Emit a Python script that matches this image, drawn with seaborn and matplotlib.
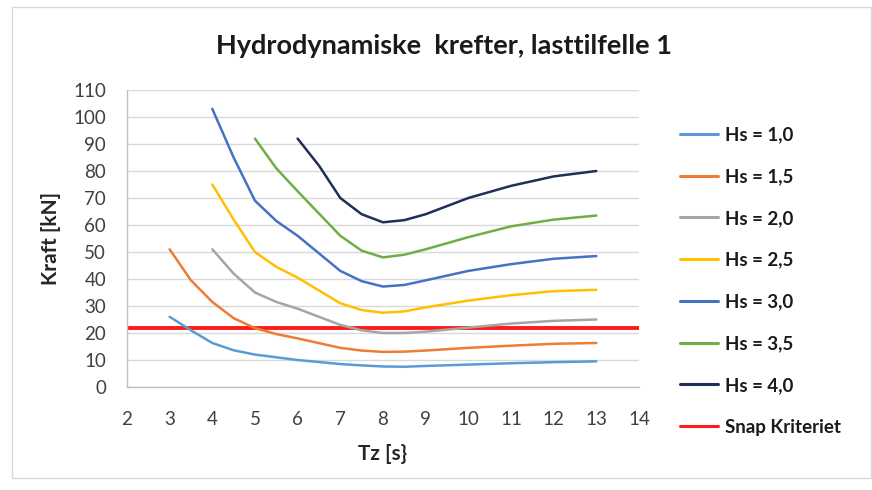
import matplotlib
matplotlib.use("Agg")
import matplotlib.pyplot as plt
import seaborn as sns
import pandas as pd
from matplotlib.patches import Rectangle

# ---- data ----
tz_1_0 = [3, 3.5, 4, 4.5, 5, 6, 7, 7.5, 8, 8.5, 9, 10, 11, 12, 13]
f_1_0 = [26, 21, 16.3, 13.6, 12, 10, 8.5, 8.0, 7.6, 7.5, 7.8, 8.3, 8.8, 9.2, 9.5]
tz_1_5 = [3, 3.5, 4, 4.5, 5, 5.5, 6, 7, 7.5, 8, 8.5, 9, 10, 11, 12, 13]
f_1_5 = [51, 39.5, 31.5, 25.5, 21.8, 19.6, 18, 14.5, 13.5, 13, 13.1, 13.5, 14.5, 15.3, 16, 16.3]
tz_2_0 = [4, 4.5, 5, 5.5, 6, 6.5, 7, 7.5, 8, 8.5, 9, 10, 11, 12, 13]
f_2_0 = [51, 42, 35, 31.5, 29, 26, 23, 21, 20, 20, 20.5, 22, 23.5, 24.5, 25]
tz_2_5 = [4, 4.5, 5, 5.5, 6, 7, 7.5, 8, 8.5, 9, 10, 11, 12, 13]
f_2_5 = [75, 62, 50, 44.5, 40.5, 31, 28.5, 27.5, 28, 29.5, 32, 34, 35.5, 36]
tz_3_0 = [4, 4.5, 5, 5.5, 6, 7, 7.5, 8, 8.5, 9, 10, 11, 12, 13]
f_3_0 = [103, 85, 69, 61.5, 56, 43, 39.2, 37.2, 37.8, 39.5, 43, 45.5, 47.5, 48.5]
tz_3_5 = [5, 5.5, 6, 7, 7.5, 8, 8.5, 9, 10, 11, 12, 13]
f_3_5 = [92, 81, 72.5, 56, 50.5, 48, 49, 51, 55.5, 59.5, 62, 63.5]
tz_4_0 = [6, 6.5, 7, 7.5, 8, 8.5, 9, 10, 11, 12, 13]
f_4_0 = [92, 82, 70, 64, 61, 61.8, 64, 70, 74.5, 78, 80]
snap_tz = [2, 14]
snap_value = [22, 22]

series_names = ["Hs = 1,0", "Hs = 1,5", "Hs = 2,0", "Hs = 2,5",
                "Hs = 3,0", "Hs = 3,5", "Hs = 4,0", "Snap Kriteriet"]
series_x = [tz_1_0, tz_1_5, tz_2_0, tz_2_5, tz_3_0, tz_3_5, tz_4_0, snap_tz]
series_y = [f_1_0, f_1_5, f_2_0, f_2_5, f_3_0, f_3_5, f_4_0, snap_value]
colors = ["#5B9BD5", "#ED7D31", "#A5A5A5", "#FFC000",
          "#4472C4", "#70AD47", "#1F2F55", "#FF1A1A"]
x_ticks = list(range(2, 15))
y_ticks = list(range(0, 111, 10))

rows = []
for name, xs, ys in zip(series_names, series_x, series_y):
    for x, y in zip(xs, ys):
        rows.append({"Tz": x, "Kraft": y, "Serie": name})
df = pd.DataFrame(rows)

sns.set_theme(style="white")
plt.rcParams["font.family"] = ["Lato", "DejaVu Sans"]

fig = plt.figure(figsize=(8.72, 4.9), dpi=100)
ax = fig.add_axes([0.1456, 0.2102, 0.5872, 0.6061])

palette = dict(zip(series_names, colors))
sns.lineplot(data=df, x="Tz", y="Kraft", hue="Serie", palette=palette,
             hue_order=series_names, linewidth=1.8, ax=ax, sort=True,
             estimator=None)
for line, name in zip(ax.get_lines(), series_names):
    line.set_solid_joinstyle("round")
    line.set_solid_capstyle("round")
    if name == "Snap Kriteriet":
        line.set_linewidth(2.8)
        line.set_solid_capstyle("butt")
        line.set_zorder(1.5)

ax.set_xlim(2, 14)
ax.set_ylim(0, 110)
ax.set_xticks(x_ticks)
ax.set_yticks(y_ticks)
ax.tick_params(axis="both", labelsize=13.5, colors="#404040", length=0)
ax.tick_params(axis="x", pad=17)
ax.tick_params(axis="y", pad=15)
ax.grid(axis="y", color="#D9D9D9", linewidth=1)
ax.set_axisbelow(True)
for s in ["top", "right"]:
    ax.spines[s].set_visible(False)
for s in ["left", "bottom"]:
    ax.spines[s].set_color("#BFBFBF")
    ax.spines[s].set_linewidth(1)

ax.set_xlabel("Tz [s}", fontsize=15, fontweight="bold", color="#262626", labelpad=12)
ax.set_ylabel("Kraft [kN]", fontsize=15, fontweight="bold", color="#262626", labelpad=9)

fig.text(0.509, 0.907, "Hydrodynamiske  krefter, lasttilfelle 1", ha="center",
         va="center", fontsize=19.5, fontweight="bold", color="#1a1a1a")

handles, labels = ax.get_legend_handles_labels()
for h in handles:
    h.set_linewidth(2.2)
leg = ax.legend(handles, labels, loc="upper left", bbox_to_anchor=(0.78, 0.742),
                bbox_transform=fig.transFigure, frameon=False, fontsize=13.5,
                labelspacing=1.32, handlelength=2.0, handletextpad=0.4,
                borderpad=0, borderaxespad=0)
for t in leg.get_texts():
    t.set_fontweight("bold")
    t.set_color("#1a1a1a")

fig.patches.append(Rectangle((0.014, 0.025), 0.985, 0.96, transform=fig.transFigure,
                             fill=False, edgecolor="#D9D9D9", linewidth=1))

fig.savefig("out.png", dpi=100)
